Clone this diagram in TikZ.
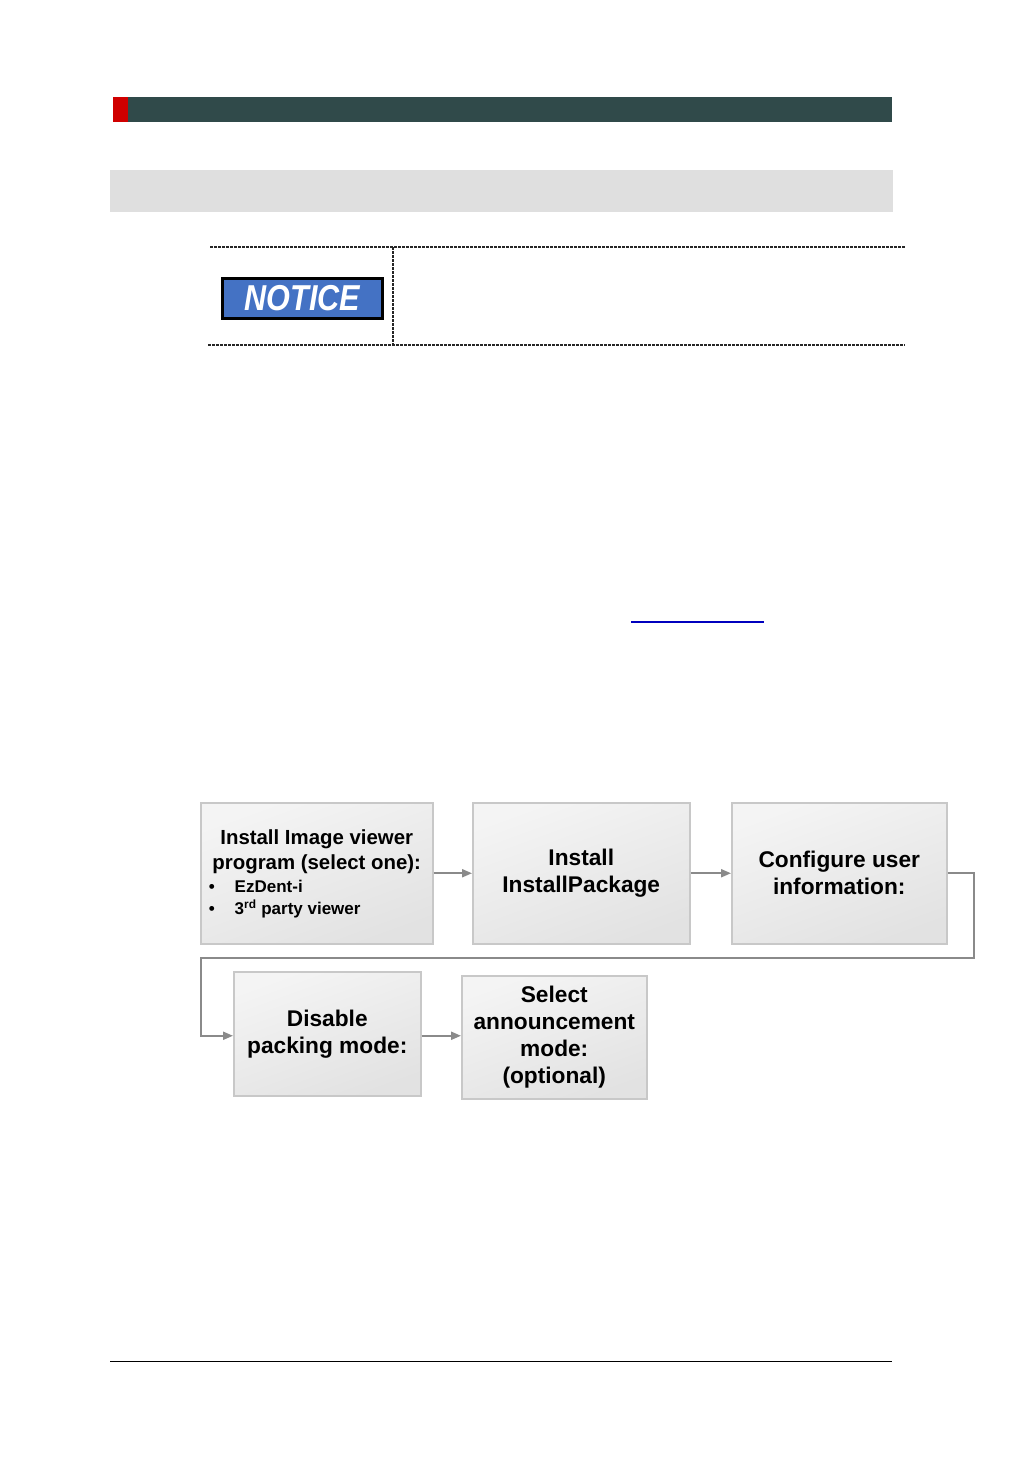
\documentclass[tikz,border=0pt]{standalone}
\usepackage{fontspec}
\setmainfont{Liberation Sans}
\usetikzlibrary{arrows.meta,positioning}
\definecolor{barDark}{RGB}{48,74,74}
\definecolor{barRed}{RGB}{208,0,0}
\definecolor{barGrey}{RGB}{223,223,223}
\definecolor{noticeBlue}{RGB}{68,114,196}
\definecolor{linkBlue}{RGB}{0,0,190}
\definecolor{boxEdge}{RGB}{200,200,200}
\definecolor{boxTop}{RGB}{244,244,244}
\definecolor{boxBot}{RGB}{226,226,226}
\definecolor{arrowGrey}{RGB}{138,138,138}
\tikzset{
  flowbox/.style={draw=boxEdge, line width=1.5pt, top color=boxTop, bottom color=boxBot,
    shading angle=20, anchor=north west, inner sep=0pt, align=center,
    font=\fontsize{22.7}{27}\selectfont\bfseries},
  flowarrow/.style={draw=arrowGrey, line width=2pt, -{Triangle[length=10pt,width=8pt]}},
  tabledash/.style={draw=black!85, line width=1.3pt, dash pattern=on 3pt off 1pt}
}
\begin{document}
\begin{tikzpicture}[x=1pt,y=-1pt]
\useasboundingbox[fill=white] (0,0) rectangle (1032,1458);
% header bars
\fill[barDark] (113,97) rectangle (892,122);
\fill[barRed] (113,97) rectangle (128,122);
\fill[barGrey] (110,170) rectangle (893,212);
% notice table
\draw[tabledash] (210,247) -- (905,247);
\draw[tabledash] (208,345) -- (905,345);
\draw[tabledash] (393,247) -- (393,345);
\node[draw=black, line width=2.5pt, fill=noticeBlue, minimum width=160pt, minimum height=40pt,
  anchor=north west, inner sep=0pt, text=white,
  font=\fontsize{36}{36}\selectfont\bfseries\itshape] (notice) at (221,277)
  {\scalebox{0.85}[1]{NOTICE}};
% link underline
\draw[linkBlue, line width=2.5pt] (631,622) -- (764,622);
% flowchart
\node[flowbox, minimum width=232pt, minimum height=141pt] (b1) at (200,802)
  {\begin{minipage}{220pt}
   \vspace{2pt}
   \fontsize{20.4}{25}\selectfont\centering
   Install Image viewer\\program (select one):\par
   \fontsize{17}{22}\selectfont\raggedright
   \vspace{1pt}
   \hspace*{2pt}\makebox[26pt][l]{•}EzDent-i\\
   \hspace*{2pt}\makebox[26pt][l]{•}3\textsuperscript{rd} party viewer
   \end{minipage}};
\node[flowbox, minimum width=217pt, minimum height=141pt] (b2) at (472,802)
  {Install\\InstallPackage};
\node[flowbox, minimum width=215pt, minimum height=141pt] (b3) at (731,802)
  {Configure user\\information:};
\node[flowbox, minimum width=187pt, minimum height=124pt] (b4) at (233,971)
  {Disable\\packing mode:};
\node[flowbox, minimum width=185pt, minimum height=123pt] (b5) at (461,975)
  {Select\\announcement\\mode:\\(optional)};
\coordinate (loopR) at (974,958);
\coordinate (loopL) at (201,958);
\draw[flowarrow] (b1.east) -- (b2.west);
\draw[flowarrow] (b2.east) -- (b3.west);
\draw[flowarrow] (b3.east) -| (loopR) -- (loopL) |- ([yshift=-2pt]b4.west);
\draw[flowarrow] ([yshift=-2pt]b4.east) -- ([yshift=-2pt]b5.west |- b4.east);
% footer line
\draw[black, line width=1pt] (110,1361) -- (892,1361);
\end{tikzpicture}
\end{document}
